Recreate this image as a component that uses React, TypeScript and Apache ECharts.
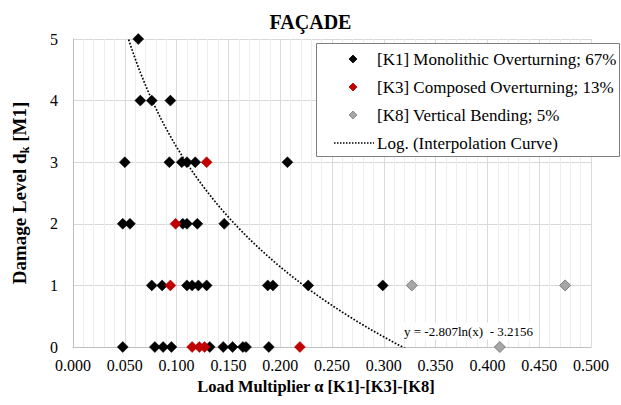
import React, { useEffect, useRef } from "react";
import * as echarts from "echarts";

const TITLE = "FAÇADE";
const X_NAME = "Load Multiplier α [K1]-[K3]-[K8]";
const LEGEND_K1 = "[K1] Monolithic Overturning; 67%";
const LEGEND_K3 = "[K3] Composed Overturning; 13%";
const LEGEND_K8 = "[K8] Vertical Bending; 5%";
const LEGEND_LOG = "Log. (Interpolation Curve)";
const EQUATION = "y = -2.807ln(x)  - 3.2156";

// trendline coefficients shown on the chart: y = A ln(x) + B
const LOG_A = -2.807;
const LOG_B = -3.2156;

const k1Points: [number, number][] = [
  [0.063, 5],
  [0.065, 4], [0.076, 4], [0.094, 4],
  [0.050, 3], [0.093, 3], [0.105, 3], [0.110, 3], [0.118, 3], [0.207, 3],
  [0.048, 2], [0.055, 2], [0.106, 2], [0.110, 2], [0.120, 2], [0.146, 2],
  [0.076, 1], [0.086, 1], [0.110, 1], [0.115, 1], [0.121, 1], [0.129, 1],
  [0.188, 1], [0.193, 1], [0.227, 1], [0.299, 1],
  [0.048, 0], [0.079, 0], [0.087, 0], [0.095, 0], [0.132, 0], [0.145, 0],
  [0.154, 0], [0.164, 0], [0.167, 0], [0.189, 0],
];

const k3Points: [number, number][] = [
  [0.129, 3],
  [0.099, 2],
  [0.094, 1],
  [0.115, 0], [0.122, 0], [0.127, 0], [0.219, 0],
];

const k8Points: [number, number][] = [
  [0.327, 1], [0.475, 1],
  [0.412, 0],
];

const FONT = "'Liberation Serif', 'Times New Roman', serif";

const BLACK = "#000000";
const RED = "#c00000";
const GRAY = "#a6a6a6";
const GRAY_BORDER = "#7f7f7f";

function buildCurve(): [number, number][] {
  const all = [...k1Points, ...k3Points, ...k8Points].map((p) => p[0]);
  const xmin = Math.min(...all);
  const xmax = Math.max(...all);
  const pts: [number, number][] = [];
  const n = 300;
  for (let i = 0; i <= n; i++) {
    const x = xmin + ((xmax - xmin) * i) / n;
    pts.push([x, LOG_A * Math.log(x) + LOG_B]);
  }
  return pts;
}

function diamond(cx: number, cy: number, r: number, fill: string, stroke: string) {
  return {
    type: "polygon",
    z: 21,
    shape: { points: [[cx, cy - r], [cx + r, cy], [cx, cy + r], [cx - r, cy]] },
    style: { fill, stroke, lineWidth: 0.8 },
  };
}

function legendText(x: number, y: number, text: string) {
  return {
    type: "text",
    x,
    y,
    z: 21,
    style: {
      text,
      fontFamily: FONT,
      fontSize: 17,
      fill: "#000",
      verticalAlign: "middle",
      align: "left",
    },
  };
}

export default function App() {
  const ref = useRef<HTMLDivElement>(null);
  useEffect(() => {
    if (!ref.current) return;
    const chart = echarts.init(ref.current, undefined, { renderer: "svg" });
    const boxX = 316, boxY = 43, boxW = 304, boxH = 114;
    const rows = [59, 87, 115, 143];
    const iconX = 353, textX = 377;
    chart.setOption({
      animation: false,
      backgroundColor: "#ffffff",
      title: {
        text: TITLE,
        left: "center",
        top: 7,
        textStyle: { fontFamily: FONT, fontSize: 20, fontWeight: "bold", color: "#000" },
      },
      grid: { left: 69, right: 30, top: 39, bottom: 58 },
      xAxis: {
        type: "value",
        min: 0,
        max: 0.5,
        interval: 0.05,
        name: X_NAME,
        nameLocation: "middle",
        nameGap: 31,
        nameTextStyle: {
          fontFamily: FONT,
          fontSize: 16.5,
          fontWeight: "bold",
          color: "#000",
          padding: [0, 32, 0, 0],
        },
        axisLine: { show: true, lineStyle: { color: "#bfbfbf" } },
        axisTick: { show: false },
        axisLabel: {
          fontFamily: FONT,
          fontSize: 16,
          color: "#000",
          margin: 10,
          formatter: (v: number) => v.toFixed(3),
        },
        splitLine: { show: true, lineStyle: { color: "#d9d9d9" } },
        minorTick: { show: false, splitNumber: 5 },
        minorSplitLine: { show: true, lineStyle: { color: "#eeeeee" } },
      },
      yAxis: {
        type: "value",
        min: 0,
        max: 5,
        interval: 1,
        name: "{b|Damage Level d}{s|k}{b| [M1]}",
        nameLocation: "middle",
        nameRotate: 90,
        nameGap: 42,
        nameTextStyle: {
          fontFamily: FONT,
          fontSize: 19,
          fontWeight: "bold",
          color: "#000",
          rich: {
            b: { fontFamily: FONT, fontSize: 19, fontWeight: "bold", color: "#000", lineHeight: 23 },
            s: { fontFamily: FONT, fontSize: 12.5, fontWeight: "bold", color: "#000", lineHeight: 23, padding: [10, 0, 0, 0] },
          },
        },
        axisLine: { show: true, lineStyle: { color: "#bfbfbf" } },
        axisTick: { show: false },
        axisLabel: { fontFamily: FONT, fontSize: 16, color: "#000", margin: 15 },
        splitLine: { show: true, lineStyle: { color: "#d9d9d9" } },
      },
      series: [
        {
          name: LEGEND_LOG,
          type: "line",
          data: buildCurve(),
          showSymbol: false,
          symbol: "none",
          clip: true,
          lineStyle: { color: "#000", width: 1.7, type: [1.7, 1.7] },
          itemStyle: { color: "#000" },
          z: 3,
        },
        {
          name: LEGEND_K1,
          type: "scatter",
          data: k1Points,
          symbol: "diamond",
          symbolSize: 11,
          itemStyle: { color: BLACK, borderColor: BLACK, borderWidth: 0.5, opacity: 1 },
          z: 4,
        },
        {
          name: LEGEND_K3,
          type: "scatter",
          data: k3Points,
          symbol: "diamond",
          symbolSize: 11,
          itemStyle: { color: RED, borderColor: RED, borderWidth: 0.5, opacity: 1 },
          z: 5,
        },
        {
          name: LEGEND_K8,
          type: "scatter",
          data: k8Points,
          symbol: "diamond",
          symbolSize: 11,
          itemStyle: { color: GRAY, borderColor: GRAY_BORDER, borderWidth: 1, opacity: 1 },
          z: 5,
        },
      ],
      graphic: [
        {
          type: "text",
          x: 402,
          y: 331,
          z: 10,
          style: {
            text: EQUATION,
            fontFamily: FONT,
            fontSize: 13,
            fill: "#000",
            verticalAlign: "middle",
            backgroundColor: "#ffffff",
            padding: [2, 2, 2, 2],
          },
        },
        {
          type: "rect",
          z: 20,
          shape: { x: boxX + 0.5, y: boxY + 0.5, width: boxW - 1, height: boxH - 1 },
          style: { fill: "#ffffff", stroke: GRAY_BORDER, lineWidth: 1 },
        },
        diamond(iconX, rows[0], 4, BLACK, BLACK),
        diamond(iconX, rows[1], 4, RED, RED),
        diamond(iconX, rows[2], 4, GRAY, GRAY_BORDER),
        {
          type: "line",
          z: 21,
          shape: { x1: 334, y1: rows[3], x2: 374, y2: rows[3] },
          style: { stroke: "#000", lineWidth: 1.5, lineDash: [1.5, 1.5] },
        },
        legendText(textX, rows[0], LEGEND_K1),
        legendText(textX, rows[1], LEGEND_K3),
        legendText(textX, rows[2], LEGEND_K8),
        legendText(textX, rows[3], LEGEND_LOG),
      ],
    });
    return () => chart.dispose();
  }, []);
  return (
    <div
      ref={ref}
      style={{ position: "fixed", left: 0, top: 0, width: 621, height: 405 }}
    />
  );
}
